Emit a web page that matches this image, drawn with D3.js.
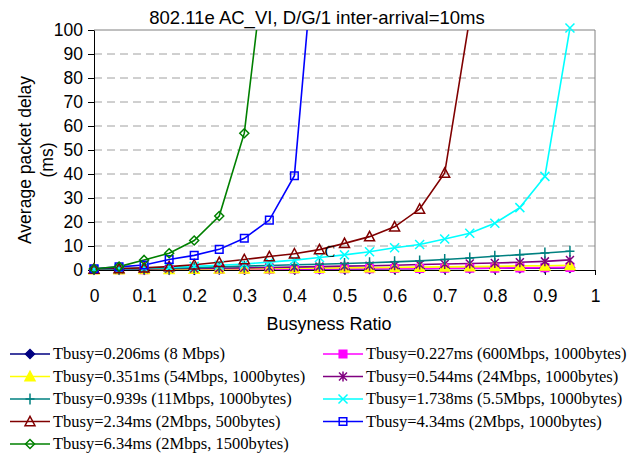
<!DOCTYPE html>
<html>
<head>
<meta charset="utf-8">
<script src="https://cdn.jsdelivr.net/npm/d3@7"></script>
<style>
  body { margin:0; background:#fff; }
</style>
</head>
<body>
<div class="svg-container"></div>
<script>
//chart data
const busyness = [0,0.05,0.1,0.15,0.2,0.25,0.3,0.35,0.4,0.45,0.5,0.55,0.6,0.65,0.7,0.75,0.8,0.85,0.9,0.95];
const xTicks = [0,0.1,0.2,0.3,0.4,0.5,0.6,0.7,0.8,0.9,1];
const yTicks = [0,10,20,30,40,50,60,70,80,90,100];

const t206 = [0.08,0.1,0.12,0.15,0.18,0.2,0.25,0.3,0.33,0.37,0.4,0.45,0.5,0.55,0.6,0.65,0.7,0.75,0.8,0.9];
const t227 = [0.1,0.12,0.15,0.2,0.22,0.25,0.3,0.35,0.4,0.45,0.5,0.55,0.6,0.65,0.7,0.75,0.8,0.9,1.0,1.1];
const t351 = [0.15,0.2,0.25,0.3,0.4,0.45,0.5,0.6,0.7,0.8,0.9,1.0,1.1,1.2,1.3,1.4,1.5,1.7,1.8,2.0];
const t544 = [0.2,0.3,0.4,0.5,0.6,0.75,0.9,1.05,1.2,1.4,1.6,1.8,2.0,2.3,2.5,2.7,2.9,3.2,3.6,4.2];
const t939 = [0.3,0.45,0.6,0.8,1.0,1.3,1.6,1.9,2.2,2.4,2.7,3.0,3.4,3.8,4.4,5.0,5.7,6.4,7.1,7.8];
const t1738 = [0.3,0.5,0.8,1.1,1.5,2.0,2.5,3.3,4.1,5.2,6.3,7.6,9.3,10.6,12.9,15.3,19.5,26.0,39.0,100.8];
const t234 = [0.4,0.6,0.9,1.4,2.2,3.2,4.4,5.6,6.8,8.5,11.1,13.9,18.0,25.4,40.4,105];
const t434 = [0.5,1.3,2.1,4.4,6.1,8.6,13.2,20.8,39.3,159];
const t634 = [0.5,1.4,4.2,7.0,12.3,22.5,57,145];

const labels = [
  'Tbusy=0.206ms (8 Mbps)',
  'Tbusy=0.227ms (600Mbps, 1000bytes)',
  'Tbusy=0.351ms (54Mbps, 1000bytes)',
  'Tbusy=0.544ms (24Mbps, 1000bytes)',
  'Tbusy=0.939s (11Mbps, 1000bytes)',
  'Tbusy=1.738ms (5.5Mbps, 1000bytes)',
  'Tbusy=2.34ms (2Mbps, 500bytes)',
  'Tbusy=4.34ms (2Mbps, 1000bytes)',
  'Tbusy=6.34ms (2Mbps, 1500bytes)'
];

//series styling, in drawing / legend order
const series = [
  { vals:t206,  color:'#000080', marker:'diamond',  fill:true },
  { vals:t227,  color:'#FF00FF', marker:'square',   fill:true },
  { vals:t351,  color:'#FFFF00', marker:'triangle', fill:true },
  { vals:t544,  color:'#800080', marker:'star',     fill:false },
  { vals:t939,  color:'#008080', marker:'plus',     fill:false },
  { vals:t1738, color:'#00FFFF', marker:'cross',    fill:false },
  { vals:t234,  color:'#800000', marker:'triangle', fill:false },
  { vals:t434,  color:'#0000FF', marker:'square',   fill:false },
  { vals:t634,  color:'#008000', marker:'diamond',  fill:false }
];
series.forEach((s,i) => s.label = labels[i]);

const width = 634;
const height = 454;
const plot = { left:94, right:595, top:30, bottom:270 };
const sans = 'Liberation Sans, Arial, sans-serif';

const xScale = d3.scaleLinear().domain([0,1]).range([plot.left, plot.right]);
const yScale = d3.scaleLinear().domain([0,100]).range([plot.bottom, plot.top]);

const svg = d3.select('.svg-container')
  .append('svg')
  .attr('width', width)
  .attr('height', height)
  .style('font-family', sans);

svg.append('defs').append('clipPath').attr('id','clip')
  .append('rect')
  .attr('x', plot.left).attr('y', plot.top)
  .attr('width', plot.right-plot.left).attr('height', plot.bottom-plot.top);

//gridlines
svg.append('g')
  .selectAll('line')
  .data(yTicks.slice(1, -1))
  .join('line')
  .attr('x1', plot.left).attr('x2', plot.right)
  .attr('y1', d => yScale(d)).attr('y2', d => yScale(d))
  .attr('stroke', '#a0a0a0')
  .attr('stroke-dasharray', '8,5')
  .attr('stroke-width', 1);

//frame top / right
svg.append('path')
  .attr('d', `M${plot.left},${plot.top}H${plot.right}V${plot.bottom}`)
  .attr('fill', 'none')
  .attr('stroke', '#808080')
  .attr('stroke-width', 1);

//axes
const xAxis = d3.axisBottom(xScale).tickValues(xTicks).tickSize(5).tickPadding(15)
  .tickFormat(d => d3.format('~g')(d));
svg.append('g')
  .attr('class','x-axis')
  .attr('transform', `translate(0,${plot.bottom})`)
  .call(xAxis)
  .call(g => g.selectAll('text').attr('font-size', 17.5).attr('fill','#000').style('font-family', sans))
  .call(g => g.selectAll('line,path').attr('stroke','#000'));

const yAxis = d3.axisLeft(yScale).tickValues(yTicks).tickSize(6).tickSizeOuter(0).tickPadding(5);
svg.append('g')
  .attr('class','y-axis')
  .attr('transform', `translate(${plot.left},0)`)
  .call(yAxis)
  .call(g => g.selectAll('text').attr('font-size', 17.5).attr('fill','#000').style('font-family', sans))
  .call(g => g.selectAll('line,path').attr('stroke','#000'));

//marker paths
const markerPath = (type) => {
  switch(type){
    case 'diamond': return 'M0,-4.5L4.5,0L0,4.5L-4.5,0Z';
    case 'square': return 'M-3.8,-3.8H3.8V3.8H-3.8Z';
    case 'triangle': return 'M0,-5.2L5,4.2H-5Z';
    case 'star': return 'M-4,-4L4,4M-4,4L4,-4M0,-5V5';
    case 'plus': return 'M0,-5.5V5.5M-4.5,0H4.5';
    case 'cross': return 'M-4.5,-4.5L4.5,4.5M-4.5,4.5L4.5,-4.5';
  }
};

const line = d3.line()
  .x((d,i) => xScale(busyness[i]))
  .y(d => yScale(d));

const lines = svg.append('g').attr('clip-path','url(#clip)');
const marks = svg.append('g');

series.forEach(s => {
  lines.append('path')
    .datum(s.vals)
    .attr('d', line)
    .attr('fill','none')
    .attr('stroke', s.color)
    .attr('stroke-width', 1.6);

  marks.selectAll(null)
    .data(s.vals.map((v,i) => [busyness[i], v]).filter(d => d[1] <= 101))
    .join('path')
    .attr('transform', d => `translate(${xScale(d[0])},${yScale(d[1])})`)
    .attr('d', markerPath(s.marker))
    .attr('fill', s.fill ? s.color : 'none')
    .attr('stroke', s.color)
    .attr('stroke-width', 1.5);
});

//stray label inside the plot
svg.append('text')
  .attr('x', xScale(0.46)).attr('y', yScale(5.3))
  .attr('font-size', 16)
  .style('font-family', 'Liberation Serif, Times New Roman, serif')
  .attr('fill', '#000')
  .text('C');

//title
svg.append('text')
  .attr('x', width/2).attr('y', 24)
  .attr('text-anchor','middle')
  .attr('font-size', 18.5)
  .text('802.11e AC_VI, D/G/1 inter-arrival=10ms');

//axis titles
svg.append('text')
  .attr('x', 329).attr('y', 330)
  .attr('text-anchor','middle')
  .attr('font-size', 18)
  .text('Busyness Ratio');

const yTitle = svg.append('text')
  .attr('transform', 'translate(31,160) rotate(-90)')
  .attr('text-anchor','middle')
  .attr('font-size', 17.5);
yTitle.append('tspan').attr('x',0).attr('dy',0).text('Average packet delay');
yTitle.append('tspan').attr('x',0).attr('dy',22).text('(ms)');

//legend
const legendPos = (i) => {
  const col = i % 2;
  const row = Math.floor(i / 2);
  return { x: col === 0 ? 10 : 323, y: 354 + row*22.5 };
};
const legend = svg.append('g');
series.forEach((s,i) => {
  const p = legendPos(i);
  const g = legend.append('g').attr('transform', `translate(${p.x},${p.y})`);
  g.append('line').attr('x1',0).attr('x2',40).attr('y1',0).attr('y2',0)
    .attr('stroke', s.color).attr('stroke-width', 1.6);
  g.append('path')
    .attr('transform','translate(20,0)')
    .attr('d', markerPath(s.marker))
    .attr('fill', s.fill ? s.color : 'none')
    .attr('stroke', s.color)
    .attr('stroke-width', 1.5);
  g.append('text')
    .attr('x', 43).attr('y', 5)
    .attr('font-size', 16.5)
    .style('font-family', 'Liberation Serif, Times New Roman, serif')
    .text(s.label);
});
</script>
</body>
</html>
